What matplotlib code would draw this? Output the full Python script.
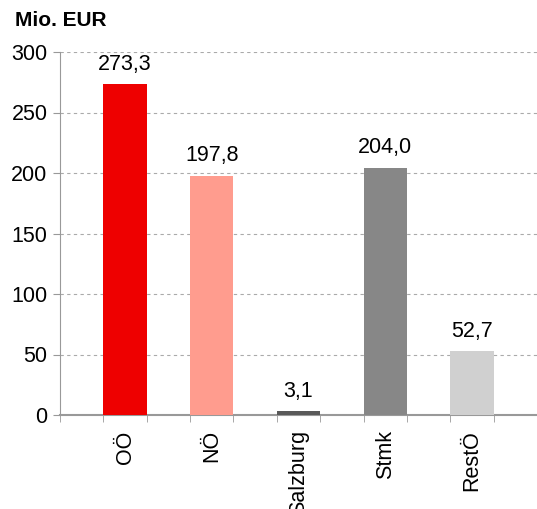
import matplotlib.pyplot as plt
import numpy as np

plt.rcParams['font.family'] = ['Liberation Sans', 'DejaVu Sans']

regions = ['OÖ', 'NÖ', 'Salzburg', 'Stmk', 'RestÖ']
values = [273.3, 197.8, 3.1, 204.0, 52.7]
colors = ['#EE0000', '#FF9C8E', '#595959', '#878787', '#D0D0D0']

fs = 15.5

fig = plt.figure(figsize=(5.37, 5.09), dpi=100)
ax = fig.add_axes([60 / 537, 1 - 415 / 509, 1 - 60 / 537, 363 / 509])

x = np.arange(len(regions)) * 2 + 1.5
bars = ax.bar(x, values, width=1.0, color=colors, zorder=3)

for xi, v in zip(x, values):
    ax.annotate(f'{v:.1f}'.replace('.', ','), (xi, v), xytext=(0, 7),
                textcoords='offset points', ha='center', va='bottom', fontsize=fs)

ax.set_xlim(0, 11)
ax.set_ylim(0, 300)
ax.set_yticks(np.arange(0, 301, 50))
ax.set_xticks(x)
ax.set_xticklabels(regions, rotation=90, fontsize=fs)
ax.set_xticks(np.arange(0, 11), minor=True)
ax.tick_params(axis='x', which='major', length=0, pad=11)
ax.tick_params(axis='x', which='minor', length=5, color='#999999', direction='out')
ax.tick_params(axis='y', length=5, color='#999999', labelsize=fs, pad=4)

ax.grid(axis='y', linestyle=(0, (3, 3)), color='#aaaaaa', linewidth=0.8, zorder=0)
for s in ['top', 'right']:
    ax.spines[s].set_visible(False)
ax.spines['left'].set_color('#999999')
ax.spines['bottom'].set_color('#999999')
ax.spines['bottom'].set_linewidth(1.5)

fig.text(15 / 537, 1 - 21 / 509, 'Mio. EUR', fontsize=15, fontweight='bold', va='center', ha='left')

fig.savefig('out.png', dpi=100)
